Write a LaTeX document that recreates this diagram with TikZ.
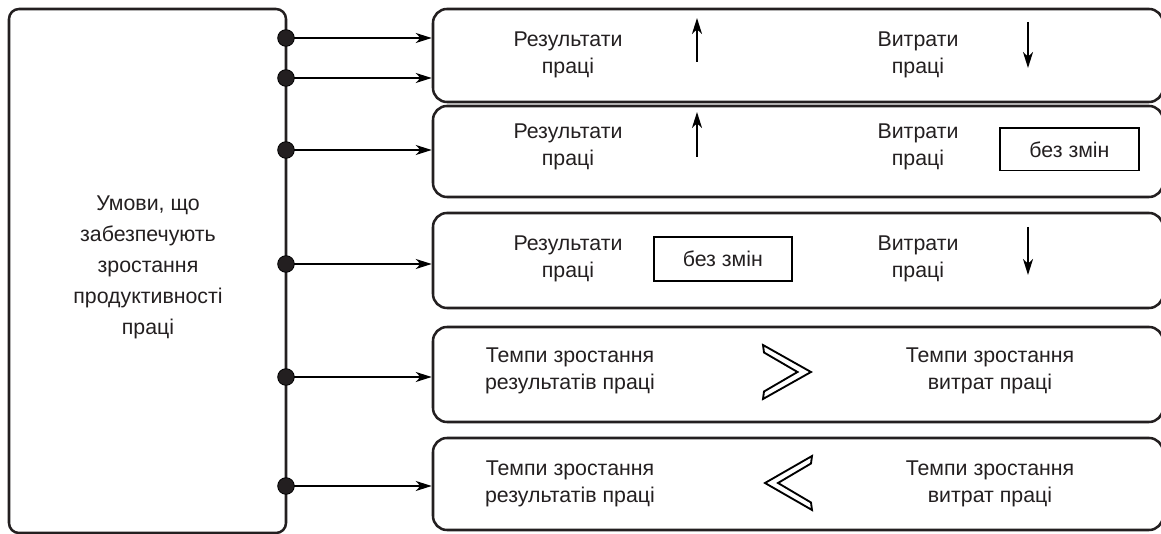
\documentclass[tikz,border=0pt]{standalone}
\usepackage{fontspec}
\setmainfont{Liberation Sans}
\usetikzlibrary{arrows.meta}
\definecolor{ink}{HTML}{231F20}
\begin{document}
\begin{tikzpicture}[x=0.75pt,y=-0.75pt,
  panel/.style={draw=ink, line width=1.9pt, rounded corners=10.5pt, inner sep=0pt},
  tag/.style={draw=black, line width=1.3pt, inner sep=0pt, text=ink,
    font=\fontsize{16}{20.25}\selectfont},
  lbl/.style={text=ink, align=center, inner sep=0pt,
    font=\fontsize{16}{20.25}\selectfont},
  jdot/.style={circle, fill=ink, draw=black, line width=0.6pt, minimum size=12.5pt, inner sep=0pt},
  conn/.style={draw=black, line width=1.5pt,
    -{Stealth[length=12pt, width=7.5pt, inset=3.5pt]}},
  chev/.style={draw=black, line width=1.4pt, fill=white, line join=miter}
]
\useasboundingbox (0,0) rectangle (1161,534);
\clip (0,0) rectangle (1161,534);

% left panel: conditions
\node[panel, rounded corners=7.5pt, minimum width=207.75pt, minimum height=393pt] (cond) at (147.5,271) {};
\node[lbl, font=\fontsize{16}{23.25}\selectfont] (condtxt) at (148,267.5)
  {Умови, що\\забезпечують\\зростання\\продуктивності\\праці};

% right panels
\node[panel, minimum width=547.5pt, minimum height=69.75pt] (b1) at (798,55.5) {};
\node[panel, minimum width=547.5pt, minimum height=68.25pt] (b2) at (798,151.5) {};
\node[panel, minimum width=547.5pt, minimum height=71.25pt] (b3) at (798,260.5) {};
\node[panel, minimum width=547.5pt, minimum height=71.25pt] (b4) at (798,374.5) {};
\node[panel, minimum width=547.5pt, minimum height=69pt] (b5) at (798,484) {};

% junction points on the spine
\coordinate (p1) at (286,38);
\coordinate (p2) at (286,78);
\coordinate (p3) at (286,150);
\coordinate (p4) at (286,264);
\coordinate (p5) at (286,377);
\coordinate (p6) at (286,486);

% connectors
\draw[conn] (p1) -- (p1 -| b1.west);
\draw[conn] (p2) -- (p2 -| b1.west);
\draw[conn] (p3) -- (p3 -| b2.west);
\draw[conn] (p4) -- (p4 -| b3.west);
\draw[conn] (p5) -- (p5 -| b4.west);
\draw[conn] (p6) -- (p6 -| b5.west);

\foreach \k in {1,...,6} {\node[jdot] (j\k) at (p\k) {};}

% panel 1
\node[lbl] (r1) at (568,55) {Результати\\праці};
\node[lbl] (v1) at (918,55) {Витрати\\праці};
\draw[conn] (697,62) -- (697,18);
\draw[conn] (1028,22) -- (1028,68);

% panel 2
\node[lbl] (r2) at (568,146.5) {Результати\\праці};
\node[lbl] (v2) at (918,146.5) {Витрати\\праці};
\draw[conn] (697,157) -- (697,112);
\node[tag, minimum width=104.25pt, minimum height=32pt] (n2) at (1069.5,149.3) {без змін};

% panel 3
\node[lbl] (r3) at (568,258.5) {Результати\\праці};
\node[lbl] (v3) at (918,258.5) {Витрати\\праці};
\node[tag, minimum width=103.3pt, minimum height=32.5pt] (n3) at (722.8,259) {без змін};
\draw[conn] (1028,227) -- (1028,275);

% panel 4
\node[lbl] (t4a) at (570,370.5) {Темпи зростання\\результатів праці};
\node[lbl] (t4b) at (990,370.5) {Темпи зростання\\витрат праці};
\draw[chev] (763,345) -- (811,372) -- (763,399) -- (764,391.5) -- (797.5,372) -- (764,352.5) -- cycle;

% panel 5
\node[lbl] (t5a) at (570,483.5) {Темпи зростання\\результатів праці};
\node[lbl] (t5b) at (990,483.5) {Темпи зростання\\витрат праці};
\draw[chev] (812,456) -- (765,483) -- (812,510) -- (811,502.5) -- (778,483) -- (811,463.5) -- cycle;
\end{tikzpicture}
\end{document}
